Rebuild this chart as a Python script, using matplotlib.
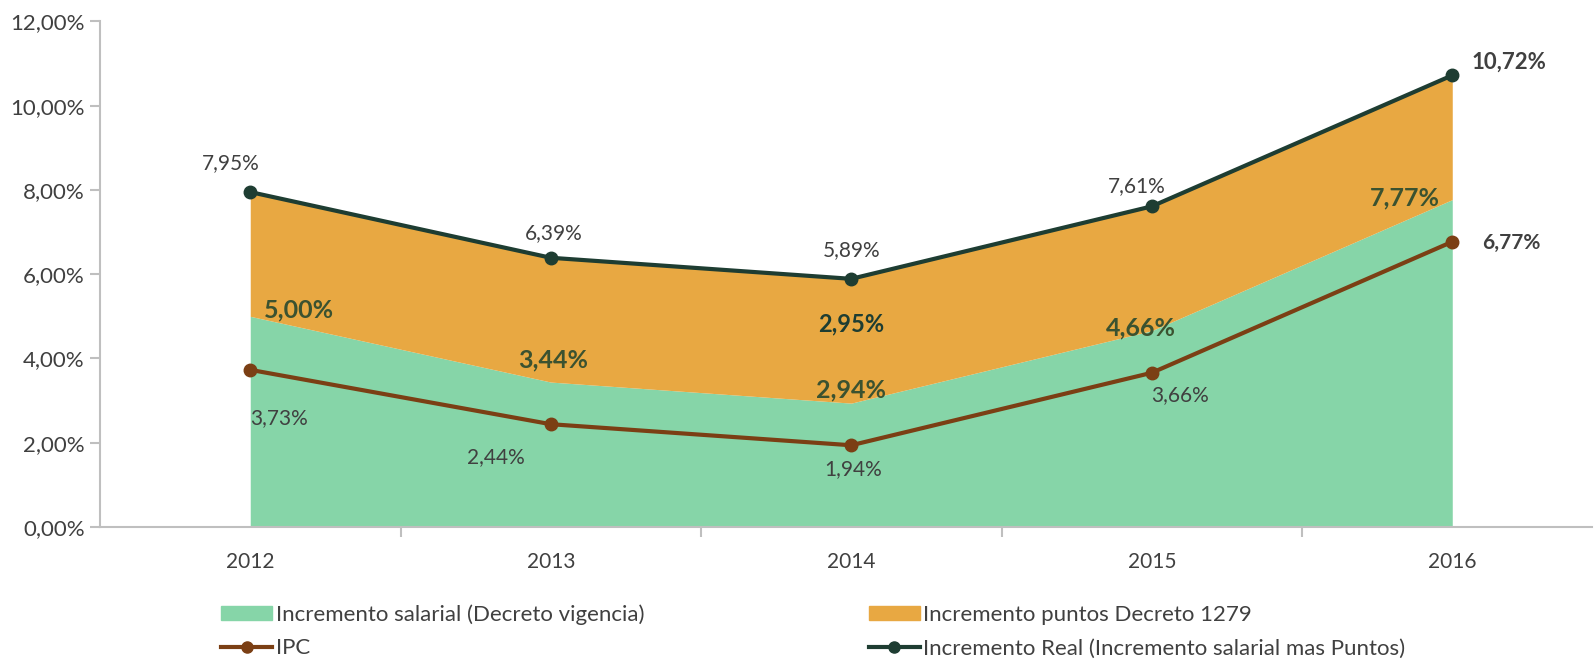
import matplotlib
matplotlib.use("Agg")
import matplotlib.pyplot as plt
from matplotlib.patches import Patch
from matplotlib.lines import Line2D
import numpy as np

plt.rcParams['font.family'] = ['Lato', 'DejaVu Sans']

years = ['2012', '2013', '2014', '2015', '2016']
salarial = [5.00, 3.44, 2.94, 4.66, 7.77]
puntos = [2.95, 2.95, 2.95, 2.95, 2.95]
ipc = [3.73, 2.44, 1.94, 3.66, 6.77]
real = [7.95, 6.39, 5.89, 7.61, 10.72]

green = '#86D5A8'
orange = '#E8A842'
brown = '#7B3F14'
dark = '#1E3D32'
txt = '#404040'
lblgreen = '#3B5230'

x = np.arange(len(years))
top = np.array(salarial) + np.array(puntos)

fig = plt.figure(figsize=(15.95, 6.62), dpi=100)
ax = fig.add_axes([100 / 1595, 1 - 527 / 662, (1592 - 100) / 1595, (527 - 21.4) / 662])

ax.fill_between(x, 0, salarial, color=green, linewidth=0)
ax.fill_between(x, salarial, top, color=orange, linewidth=0)
ax.plot(x, ipc, color=brown, lw=3, marker='o', ms=9, zorder=3)
ax.plot(x, real, color=dark, lw=3, marker='o', ms=9, zorder=3)

def fmt(v):
    return ('%.2f%%' % v).replace('.', ',')

# real line labels
real_off = [(-14, 20.5), (2, 18), (0, 20.5), (-11, 14.6), (41, 9.5)]
for i, v in enumerate(real):
    bold = i == 4
    ax.annotate(fmt(v), (x[i], v), xytext=real_off[i], textcoords='offset points',
                ha='center', va='center', fontsize=16 if bold else 15, color=txt,
                fontweight='bold' if bold else 'normal')

ipc_off = [(21, -35), (-39.5, -23.5), (1.5, -17.5), (20, -16), (42.5, -0.7)]
for i, v in enumerate(ipc):
    bold = i == 4
    ax.annotate(fmt(v), (x[i], v), xytext=ipc_off[i], textcoords='offset points',
                ha='center', va='center', fontsize=15, color=txt,
                fontweight='bold' if bold else 'normal')

sal_off = [(35, 4.4), (2, 16), (0, 9.5), (-8, 2), (-34, 1.5)]
for i, v in enumerate(salarial):
    ax.annotate(fmt(v), (x[i], v), xytext=sal_off[i], textcoords='offset points',
                ha='center', va='center', fontsize=18, color=lblgreen, fontweight='bold')

# orange label only shown for 2014
ax.annotate(fmt(puntos[2]), (x[2], salarial[2] + puntos[2] / 2), xytext=(0, 12.5),
            textcoords='offset points', ha='center', va='center', fontsize=17,
            color=dark, fontweight='bold')

ax.set_xlim(-0.5, 4.465)
ax.set_ylim(0, 12)
ax.set_yticks(np.arange(0, 13, 2))
ax.set_yticklabels([fmt(v) for v in np.arange(0, 13, 2)])
ax.set_xticks(x)
ax.set_xticklabels(years)
ax.set_xticks(np.arange(0.5, 4.5, 1), minor=True)
ax.tick_params(axis='x', which='major', length=0, pad=18, labelsize=15, labelcolor=txt)
ax.tick_params(axis='x', which='minor', length=7, width=1.5, color='#BFBFBF', direction='out')
ax.tick_params(axis='y', length=7, width=1.5, color='#BFBFBF', pad=4, labelsize=16, labelcolor=txt)
for s in ['top', 'right']:
    ax.spines[s].set_visible(False)
for s in ['left', 'bottom']:
    ax.spines[s].set_color('#BFBFBF')
    ax.spines[s].set_linewidth(1.5)

handles = [Patch(color=green), Line2D([], [], color=brown, lw=3, marker='o', ms=8),
           Patch(color=orange), Line2D([], [], color=dark, lw=3, marker='o', ms=8)]
labels = ['Incremento salarial (Decreto vigencia)', 'IPC',
          'Incremento puntos Decreto 1279', 'Incremento Real (Incremento salarial mas Puntos)']
leg = fig.legend(handles, labels, ncol=2, loc='upper left',
                 bbox_to_anchor=(210 / 1595, 1 - 593 / 662), frameon=False,
                 fontsize=16, labelcolor=txt, handlelength=2.3, handleheight=0.55,
                 handletextpad=0.15, columnspacing=10.1, labelspacing=0.62, borderpad=0)

fig.savefig('out.png', dpi=100)
